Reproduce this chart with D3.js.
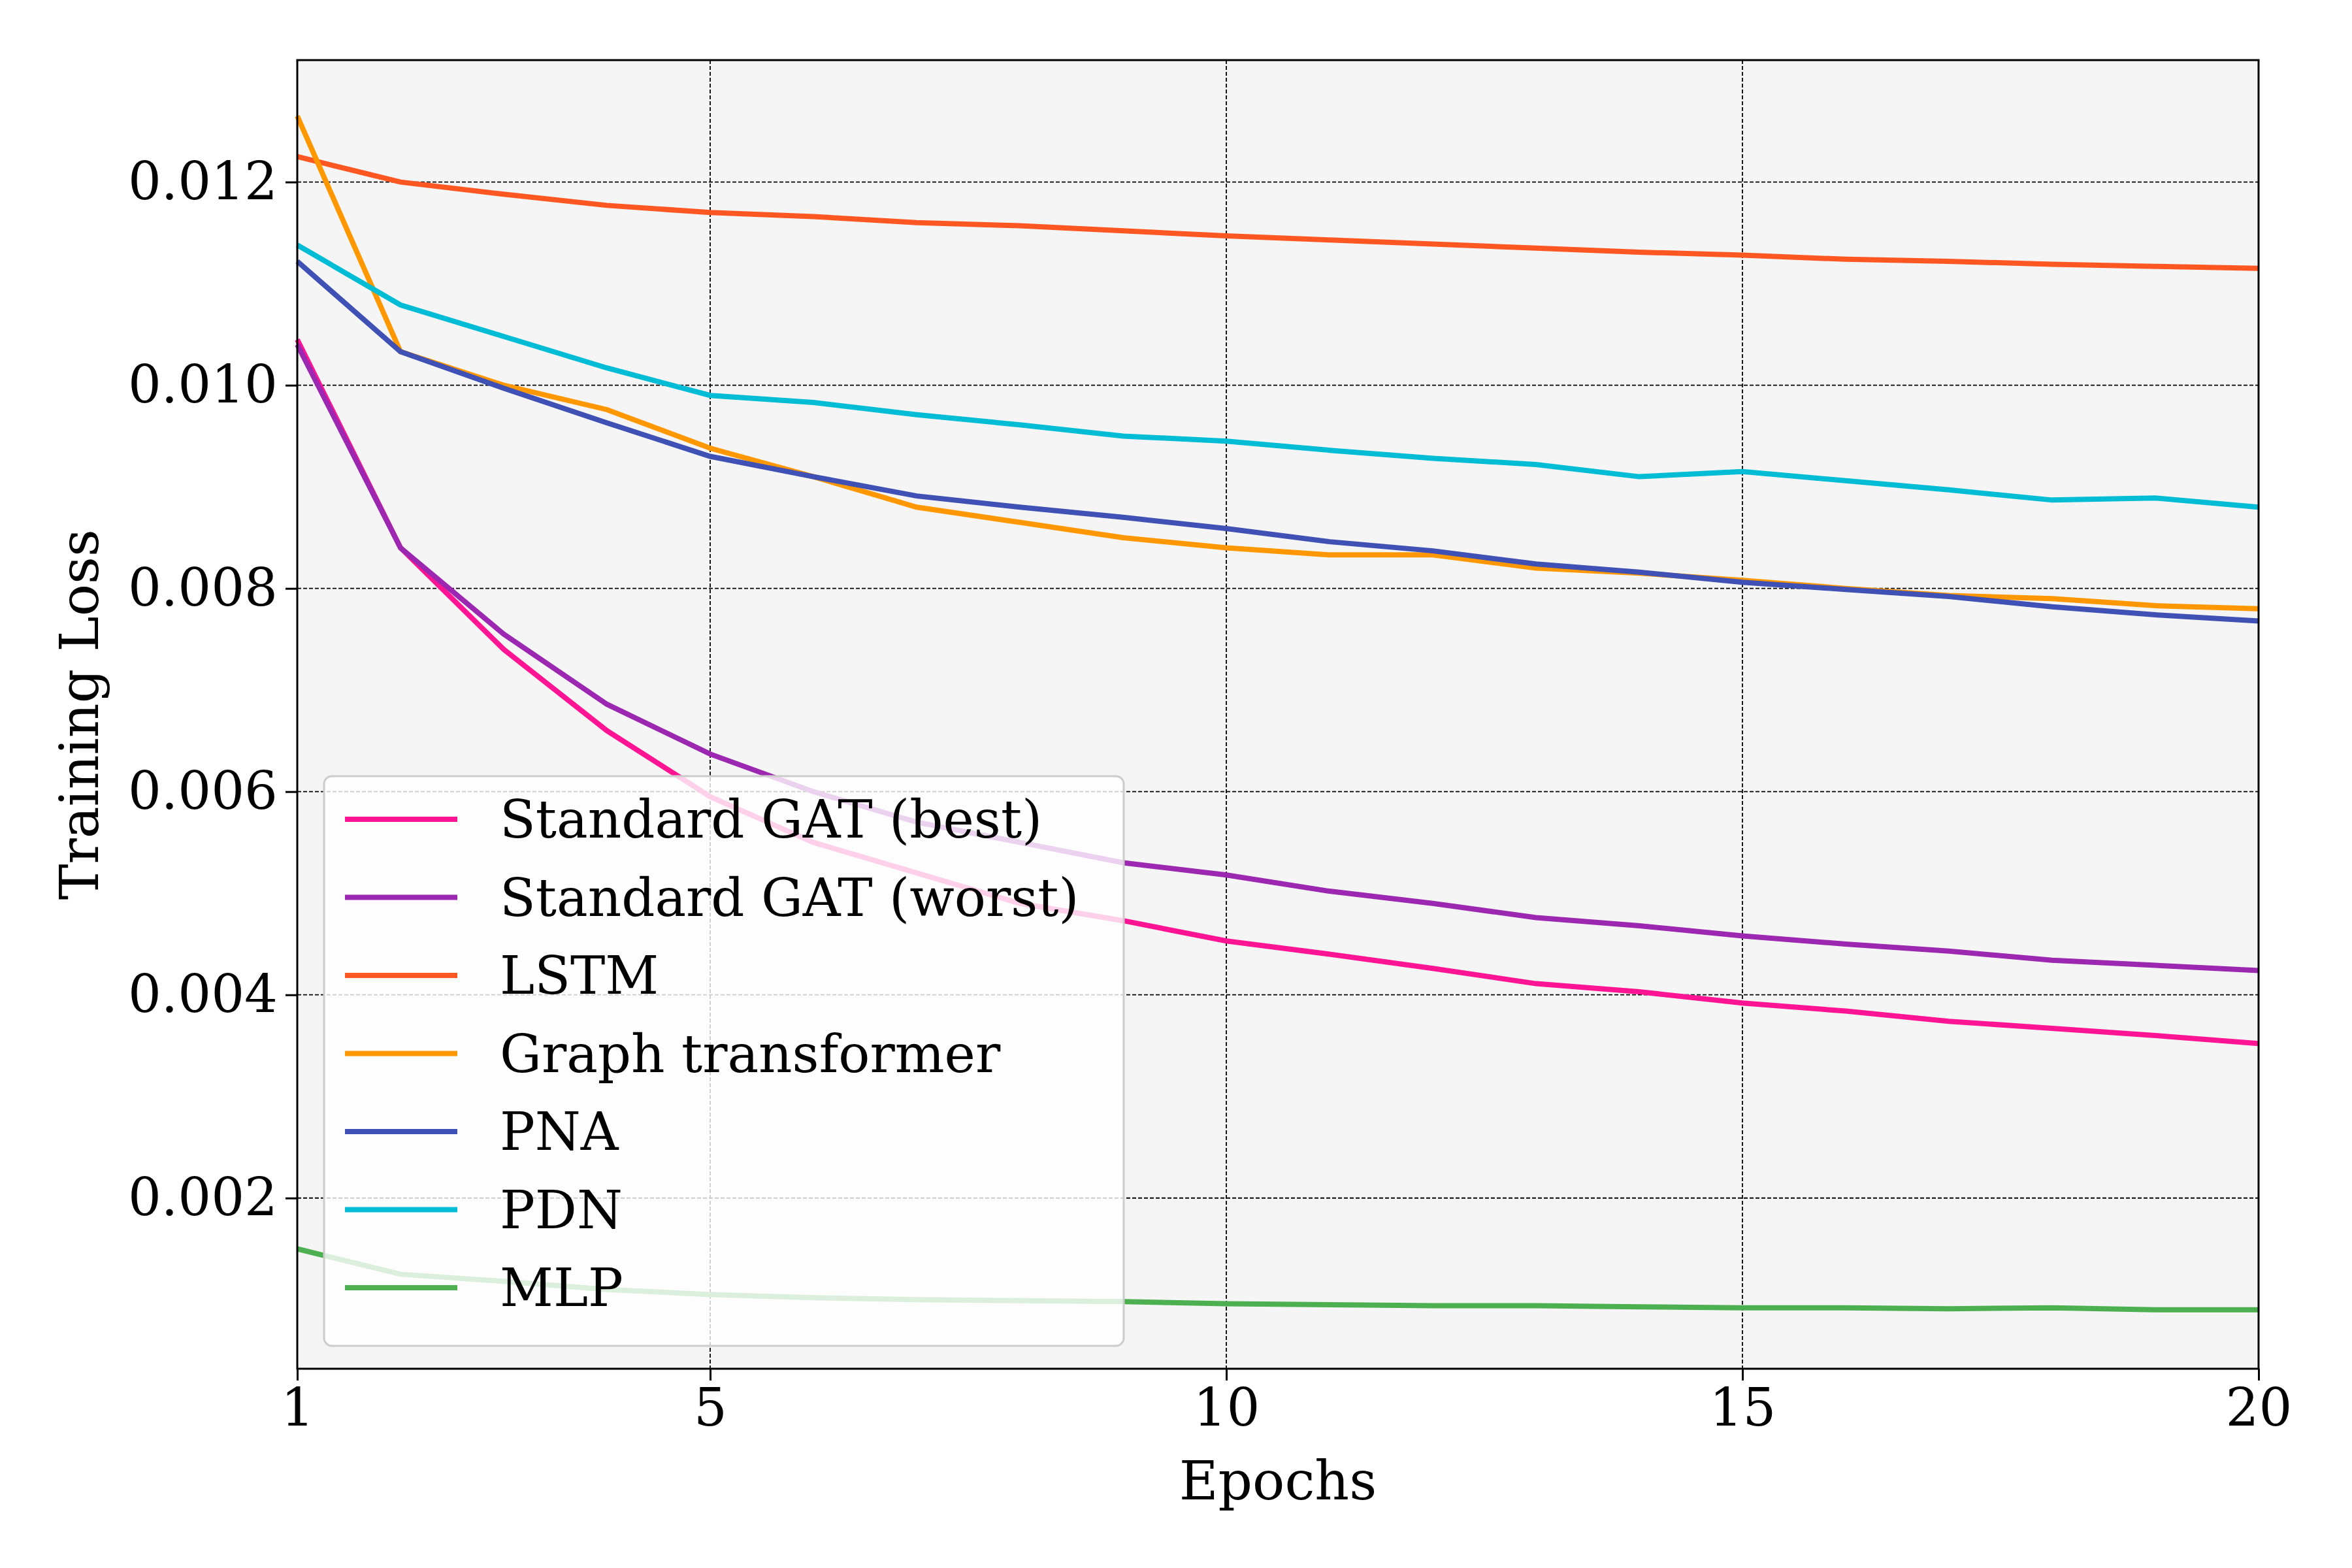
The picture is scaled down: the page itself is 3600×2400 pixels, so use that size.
<!DOCTYPE html>
<html><head><meta charset="utf-8">
<script src="https://cdn.jsdelivr.net/npm/d3@7"></script>
<style>body{margin:0;background:#fff}</style></head>
<body><svg id="c" width="3600" height="2400"></svg>
<script>
const epochs = d3.range(1,21);
const gatBest = [0.01045,0.0084,0.0074,0.0066,0.00595,0.0055,0.0052,0.0049,0.00473,0.00453,0.0044,0.00426,0.00411,0.00403,0.00392,0.00384,0.00374,0.00367,0.0036,0.00352];
const gatWorst = [0.0104,0.0084,0.00755,0.00686,0.00637,0.006,0.0057,0.0055,0.0053,0.00518,0.00502,0.0049,0.00476,0.00468,0.00458,0.0045,0.00443,0.00434,0.00429,0.00424];
const lstm = [0.01225,0.0120,0.01188,0.01177,0.0117,0.01166,0.0116,0.01157,0.01152,0.01147,0.01143,0.01139,0.01135,0.01131,0.01128,0.01124,0.01122,0.01119,0.01117,0.01115];
const graphTransformer = [0.01265,0.01033,0.0100,0.00976,0.00938,0.0091,0.0088,0.00865,0.0085,0.0084,0.00833,0.00833,0.0082,0.00815,0.00808,0.008,0.00793,0.0079,0.00783,0.0078];
const pna = [0.01122,0.01033,0.00997,0.00963,0.0093,0.0091,0.00891,0.0088,0.0087,0.00859,0.00846,0.00837,0.00824,0.00816,0.00806,0.00799,0.00792,0.00782,0.00774,0.00768];
const pdn = [0.01138,0.01079,0.01048,0.01017,0.0099,0.00983,0.00971,0.00961,0.0095,0.00945,0.00936,0.00928,0.00922,0.0091,0.00915,0.00906,0.00897,0.00887,0.00889,0.0088];
const mlp = [0.0015,0.00125,0.00118,0.0011,0.00105,0.00102,0.001,0.00099,0.00098,0.00096,0.00095,0.00094,0.00094,0.00093,0.00092,0.00092,0.00091,0.00092,0.0009,0.0009];
const seriesNames = ["Standard GAT (best)","Standard GAT (worst)","LSTM","Graph transformer","PNA","PDN","MLP"];
const seriesValues = [gatBest,gatWorst,lstm,graphTransformer,pna,pdn,mlp];
const colors = ["#ff1493","#9c27b0","#ff5722","#ff9800","#3f51b5","#00bcd4","#4caf50"];
const xTicks = [1,5,10,15,20];
const yTicks = [0.002,0.004,0.006,0.008,0.010,0.012];

const L=455,R=3457,T=92,B=2095;
const svg=d3.select("#c");
const font="DejaVu Serif";
const x=d3.scaleLinear().domain([1,20]).range([L,R]);
const y=d3.scaleLinear().domain([0.00032,0.0132]).range([B,T]);
svg.append("rect").attr("x",L).attr("y",T).attr("width",R-L).attr("height",B-T).attr("fill","#f5f5f5");
const g=svg.append("g");
g.selectAll(".gx").data(xTicks).join("line").attr("x1",d=>x(d)).attr("x2",d=>x(d)).attr("y1",T).attr("y2",B)
 .attr("stroke","#000").attr("stroke-width",1.8).attr("stroke-dasharray","6,3");
g.selectAll(".gy").data(yTicks).join("line").attr("y1",d=>y(d)).attr("y2",d=>y(d)).attr("x1",L).attr("x2",R)
 .attr("stroke","#000").attr("stroke-width",1.8).attr("stroke-dasharray","6,3");
const line=d3.line().x((d,i)=>x(epochs[i])).y(d=>y(d));
seriesValues.forEach((s,k)=>{
  svg.append("path").attr("d",line(s)).attr("fill","none").attr("stroke",colors[k]).attr("stroke-width",8);
});
const xa=svg.append("g").attr("transform",`translate(0,${B})`).call(d3.axisBottom(x).tickValues(xTicks).tickSize(18).tickPadding(12));
const ya=svg.append("g").attr("transform",`translate(${L},0)`).call(d3.axisLeft(y).tickValues(yTicks).tickFormat(d3.format(".3f")).tickSize(18).tickPadding(12));
[xa,ya].forEach(a=>{a.select(".domain").remove();a.selectAll("line").attr("stroke","#000").attr("stroke-width",3);
 a.selectAll("text").attr("font-family",font).attr("font-size",80).attr("fill","#000");});
svg.append("rect").attr("x",L).attr("y",T).attr("width",R-L).attr("height",B-T).attr("fill","none").attr("stroke","#000").attr("stroke-width",3);
svg.append("text").attr("x",(L+R)/2).attr("y",2295).attr("text-anchor","middle").attr("font-family",font).attr("font-size",82).text("Epochs");
svg.append("text").attr("transform",`translate(150,${(T+B)/2}) rotate(-90)`).attr("text-anchor","middle").attr("font-family",font).attr("font-size",82).text("Training Loss");
const lg=svg.append("g");
lg.append("rect").attr("x",496).attr("y",1188).attr("width",1224).attr("height",872).attr("rx",12)
 .attr("fill","#fff").attr("fill-opacity",0.8).attr("stroke","#ccc").attr("stroke-width",3);
seriesNames.forEach((n,k)=>{
  const yy=1254+k*119.5;
  lg.append("line").attr("x1",528).attr("x2",700).attr("y1",yy).attr("y2",yy).attr("stroke",colors[k]).attr("stroke-width",8);
  lg.append("text").attr("x",765).attr("y",yy).attr("dy","0.35em").attr("font-family",font).attr("font-size",80).text(n);
});
</script></body></html>
